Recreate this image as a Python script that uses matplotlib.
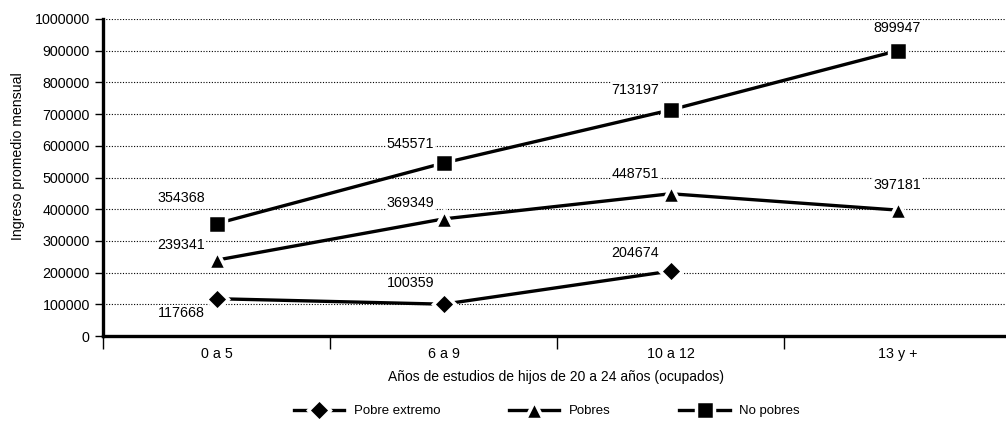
import matplotlib.pyplot as plt
from matplotlib.ticker import FixedLocator, NullFormatter, FixedFormatter

plt.rcParams['font.family'] = ['Liberation Sans', 'DejaVu Sans']

# data
categorias = ['0 a 5', '6 a 9', '10 a 12', '13 y +']
pobre_extremo = [117668, 100359, 204674]
pobres = [239341, 369349, 448751, 397181]
no_pobres = [354368, 545571, 713197, 899947]

fig = plt.figure(figsize=(10.06, 4.25), dpi=100)
ax = fig.add_axes([103 / 1006, 89 / 425, 908 / 1006, 317 / 425])

x = list(range(len(categorias)))
style = dict(color='black', lw=2.4, markeredgecolor='white', markeredgewidth=2.5)
ax.plot(x[:3], pobre_extremo, marker='D', markersize=11, label='Pobre extremo', **style)
ax.plot(x, pobres, marker='^', markersize=13, label='Pobres', **style)
ax.plot(x, no_pobres, marker='s', markersize=13, label='No pobres', **style)

# data labels (offsets in pixels)
offs_pe = [(-35, -14), (-33, 21), (-35, 18)]
offs_p = [(-35, 15), (-33, 16), (-35, 20), (0, 25)]
offs_np = [(-35, 26), (-33, 19), (-35, 20), (0, 23)]
for serie, offs in ((pobre_extremo, offs_pe), (pobres, offs_p), (no_pobres, offs_np)):
    for i, v in enumerate(serie):
        dx, dy = offs[i]
        ax.annotate(str(v), (x[i], v), xytext=(dx * 0.72, dy * 0.72), textcoords='offset points',
                    ha='center', va='center', fontsize=10.3,
                    bbox=dict(boxstyle='square,pad=0.05', fc='white', ec='none'))

ax.set_xlim(-0.5, 3.5)
ax.set_ylim(0, 1000000)
ax.set_yticks(range(0, 1000001, 100000))
ax.ticklabel_format(axis='y', style='plain', useOffset=False)
ax.yaxis.grid(True, linestyle=(0, (1, 1.5)), color='black', lw=0.8)
ax.set_axisbelow(True)

ax.xaxis.set_major_locator(FixedLocator([-0.5, 0.5, 1.5, 2.5, 3.5]))
ax.xaxis.set_major_formatter(NullFormatter())
ax.xaxis.set_minor_locator(FixedLocator(x))
ax.xaxis.set_minor_formatter(FixedFormatter(categorias))
ax.tick_params(axis='x', which='major', length=9, width=1, direction='out')
ax.tick_params(axis='x', which='minor', length=0, pad=8, labelsize=10.3)
ax.tick_params(axis='y', length=6, width=1, labelsize=10.3)

for s in ['top', 'right']:
    ax.spines[s].set_visible(False)
for s in ['left', 'bottom']:
    ax.spines[s].set_linewidth(2.4)

fig.text(18 / 1006, 1 - 156 / 425, 'Ingreso promedio mensual', rotation=90,
         ha='center', va='center', fontsize=10.2)
fig.text(556 / 1006, 1 - 377 / 425, 'Años de estudios de hijos de 20 a 24 años (ocupados)',
         ha='center', va='center', fontsize=10)

fig.legend(loc='center', bbox_to_anchor=(547 / 1006, 1 - 411 / 425), ncol=3, frameon=False,
           fontsize=9.5, columnspacing=5.2, handlelength=3.8, handletextpad=0.75)

fig.savefig('out.png', dpi=100)
